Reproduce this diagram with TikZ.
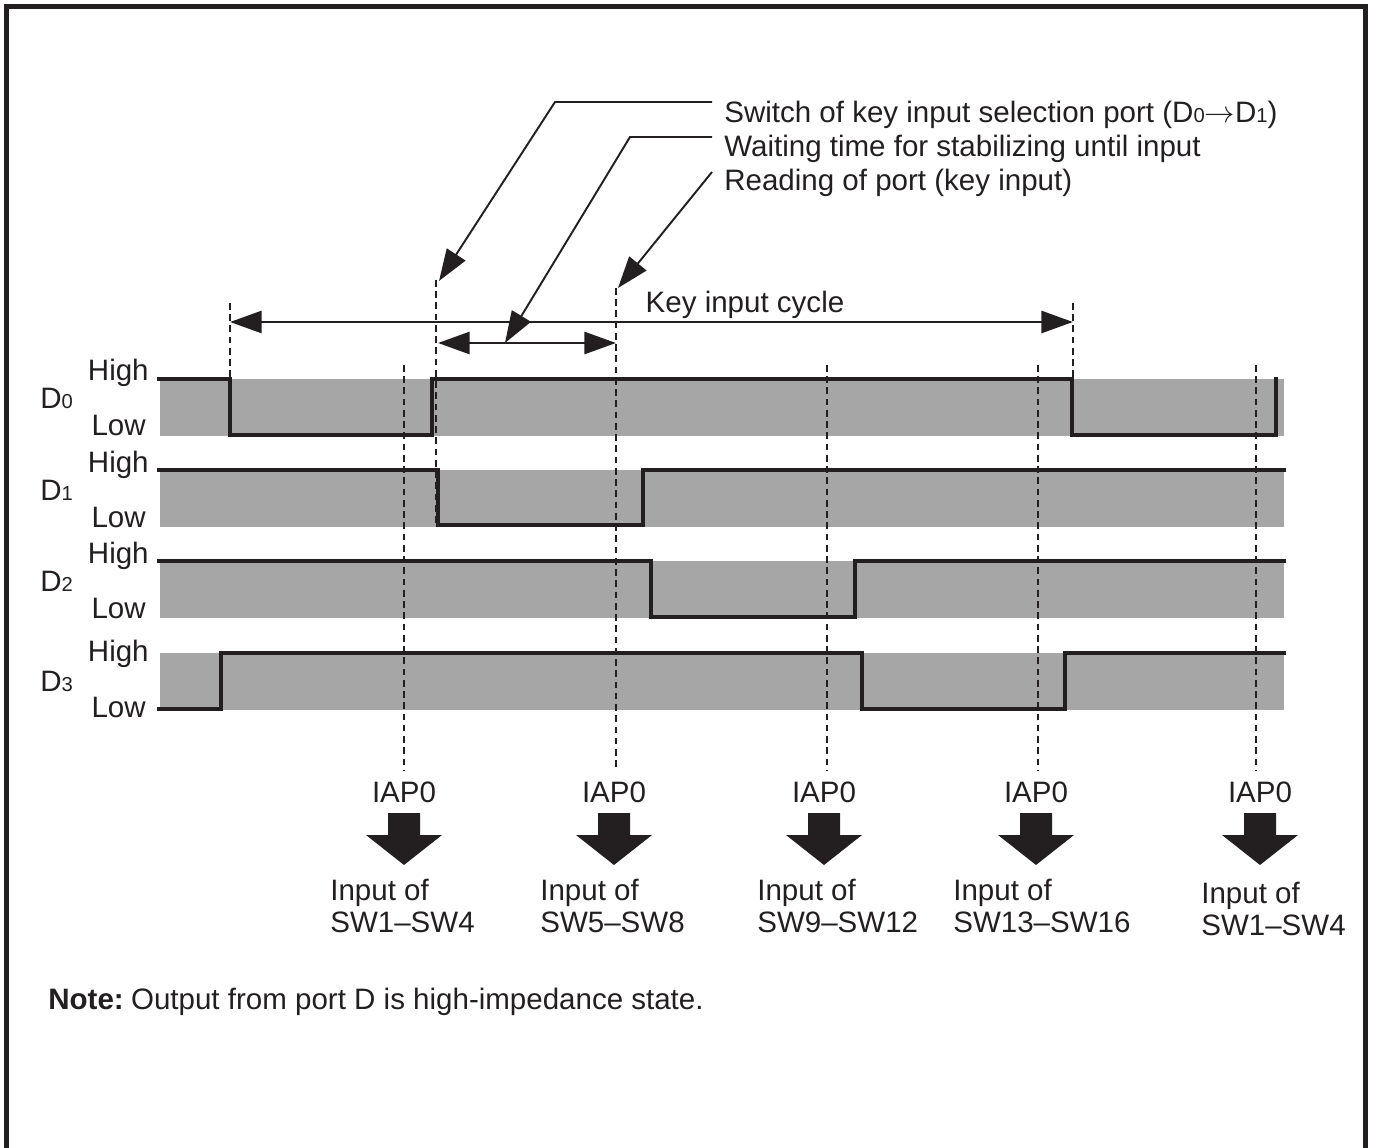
\documentclass[tikz,border=0pt]{standalone}
\usepackage{fontspec}
\setmainfont{Liberation Sans}
\usetikzlibrary{arrows.meta,positioning,calc}
\definecolor{band}{HTML}{A6A6A6}
\definecolor{ink}{HTML}{231F20}
\newcommand{\dig}[1]{{\fontsize{11.5}{12}\selectfont #1}}
\tikzset{lab/.style={font=\fontsize{16.8}{18.2}\selectfont,text=ink,inner sep=0pt},sig/.style={draw=ink,line width=2.4pt,line join=miter},tick/.style={draw=ink,line width=1.6pt,dash pattern=on 3.8pt off 2.6pt},dim/.style={draw=ink,line width=1.6pt,{Triangle[length=18pt,width=12.5pt]}-{Triangle[length=18pt,width=12.5pt]}},lead/.style={draw=ink,line width=1.1pt,-{Triangle[length=18pt,width=12.5pt]}},frame/.style={draw=ink,line width=2.85pt}}

\begin{document}
\begin{tikzpicture}[x=0.02cm,y=-0.02cm]
\useasboundingbox (0,0) rectangle (1373,1148);
\draw[frame] (6.5,1160) -- (6.5,6.5) -- (1365.5,6.5) -- (1365.5,1160);
\foreach \t in {379,470,561,653}{\fill[band] (160,\t) rectangle (1284,\t+57);}
\node[lab,anchor=base west] (d0) at (40,409) {D\dig{0}};
\node[lab,anchor=base west] (d1) at (40,501) {D\dig{1}};
\node[lab,anchor=base west] (d2) at (40,592) {D\dig{2}};
\node[lab,anchor=base west] (d3) at (40,691) {D\dig{3}};
\foreach \h/\l [count=\i] in {380.5/435.5,472.5/527.5,563.5/618.5,661.5/717.5}{
\node[lab,anchor=base east] (hi\i) at (149,\h) {High};
\node[lab,anchor=base east] (lo\i) at (146,\l) {Low};}
\draw[sig] (157,379) -- (230,379) -- (230,435) -- (432,435) -- (432,379) -- (1072,379) -- (1072,435) -- (1276,435) -- (1276,377);
\draw[sig] (157,470) -- (438,470) -- (438,525) -- (643,525) -- (643,470) -- (1286,470);
\draw[sig] (157,561) -- (651,561) -- (651,617) -- (855,617) -- (855,561) -- (1286,561);
\draw[sig] (157,709) -- (221,709) -- (221,653) -- (862,653) -- (862,709) -- (1065,709) -- (1065,653) -- (1286,653);
\draw[tick] (230,303) -- (230,377);
\draw[tick] (1073,303) -- (1073,377);
\draw[tick] (436,280) -- (436,527);
\foreach \n/\x/\ax in {1/404/404,2/614/616,3/824/827,4/1036/1038,5/1260/1256}{
\node[lab,anchor=base] (iap\n) at (\x,802) {IAP0};
\fill[ink] (\x-16,813) -- (\x+16,813) -- (\x+16,835) -- (\x+38,835) -- (\x,865) -- (\x-38,835) -- (\x-16,835) -- cycle;}
\foreach \ax in {404,827,1038,1256}{\draw[tick] (\ax,365) -- (\ax,770);}
\draw[tick] (616,288) -- (616,770);
\node[lab,anchor=north west,align=left] (in1) at (330,879) {Input of\\SW1–SW4};
\node[lab,anchor=north west,align=left] (in2) at (540,879) {Input of\\SW5–SW8};
\node[lab,anchor=north west,align=left] (in3) at (757,879) {Input of\\SW9–SW12};
\node[lab,anchor=north west,align=left] (in4) at (953,879) {Input of\\SW13–SW16};
\node[lab,anchor=north west,align=left] (in5) at (1201,882) {Input of\\SW1–SW4};
\node[lab,anchor=base west] (sw) at (724,123) {Switch of key input selection port (D\dig{0}$\rightarrow$D\dig{1})};
\node[lab,anchor=base west] (wt) at (724,157) {Waiting time for stabilizing until input};
\node[lab,anchor=base west] (rd) at (724,191) {Reading of port (key input)};
\node[lab,anchor=base] (cyc) at (745,313) {Key input cycle};
\node[lab,anchor=base west] (note) at (48,1009) {\textbf{Note:}\kern-0.5pt\ Output from port D is high-impedance state.};
\coordinate (c0) at (230,322); \coordinate (c1) at (1073,322);
\coordinate (w0) at (438,343); \coordinate (w1) at (616,343);
\draw[dim] (c0) -- (c1); \draw[dim] (w0) -- (w1);
\coordinate (s0) at (712,102); \coordinate (s1) at (555,102); \coordinate (s2) at (439,281);
\coordinate (t0) at (712,137); \coordinate (t1) at (630,137); \coordinate (t2) at (505,343);
\coordinate (r0) at (712,172); \coordinate (r1) at (618,288);
\draw[lead] (s0) -- (s1) -- (s2);
\draw[lead] (t0) -- (t1) -- (t2);
\draw[lead] (r0) -- (r1);
\end{tikzpicture}
\end{document}
